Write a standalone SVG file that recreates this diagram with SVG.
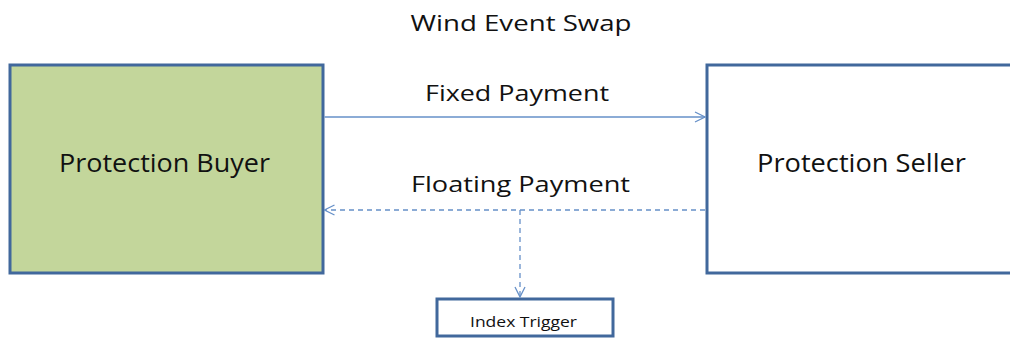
<svg xmlns="http://www.w3.org/2000/svg" width="1010" height="339" viewBox="0 0 1010 339">
<style>
text{font-family:"Open Sans","Liberation Sans",sans-serif;fill:#111;}
.box{stroke:#41689c;stroke-width:3;}
.conn{stroke:#6690c8;stroke-width:1.3;fill:none;}
.dash{stroke-dasharray:5 4;}
</style>
<defs>
<marker id="arr" markerWidth="12" markerHeight="12" refX="11" refY="6" orient="auto" markerUnits="userSpaceOnUse">
<path d="M1,1 L11,6 L1,11" fill="none" stroke="#6690c8" stroke-width="1.3"/>
</marker>
</defs>
<rect width="1010" height="339" fill="#ffffff"/>
<text x="521" y="31" font-size="22" text-anchor="middle" textLength="221" lengthAdjust="spacingAndGlyphs">Wind Event Swap</text>
<g id="buyer">
<rect class="box" x="10" y="65" width="313" height="208" fill="#c3d69b"/>
<text x="164.5" y="172" font-size="25" text-anchor="middle" textLength="211" lengthAdjust="spacingAndGlyphs">Protection Buyer</text>
</g>
<g id="seller">
<rect class="box" x="707" y="65" width="310" height="208" fill="#ffffff"/>
<text x="861.5" y="172" font-size="25" text-anchor="middle" textLength="209" lengthAdjust="spacingAndGlyphs">Protection Seller</text>
</g>
<g id="index">
<rect class="box" x="437" y="299" width="176" height="37" fill="#ffffff"/>
<text x="523.5" y="327" font-size="15" text-anchor="middle" textLength="107" lengthAdjust="spacingAndGlyphs">Index Trigger</text>
</g>
<g id="connectors">
<line class="conn" x1="324.5" y1="117" x2="705" y2="117" marker-end="url(#arr)"/>
<line class="conn dash" x1="705" y1="210" x2="324.5" y2="210" marker-end="url(#arr)"/>
<line class="conn dash" x1="520" y1="210" x2="520" y2="297" marker-end="url(#arr)"/>
<text x="517" y="101" font-size="22" text-anchor="middle" textLength="184" lengthAdjust="spacingAndGlyphs">Fixed Payment</text>
<text x="520.5" y="192" font-size="22" text-anchor="middle" textLength="219" lengthAdjust="spacingAndGlyphs">Floating Payment</text>
</g>
</svg>
